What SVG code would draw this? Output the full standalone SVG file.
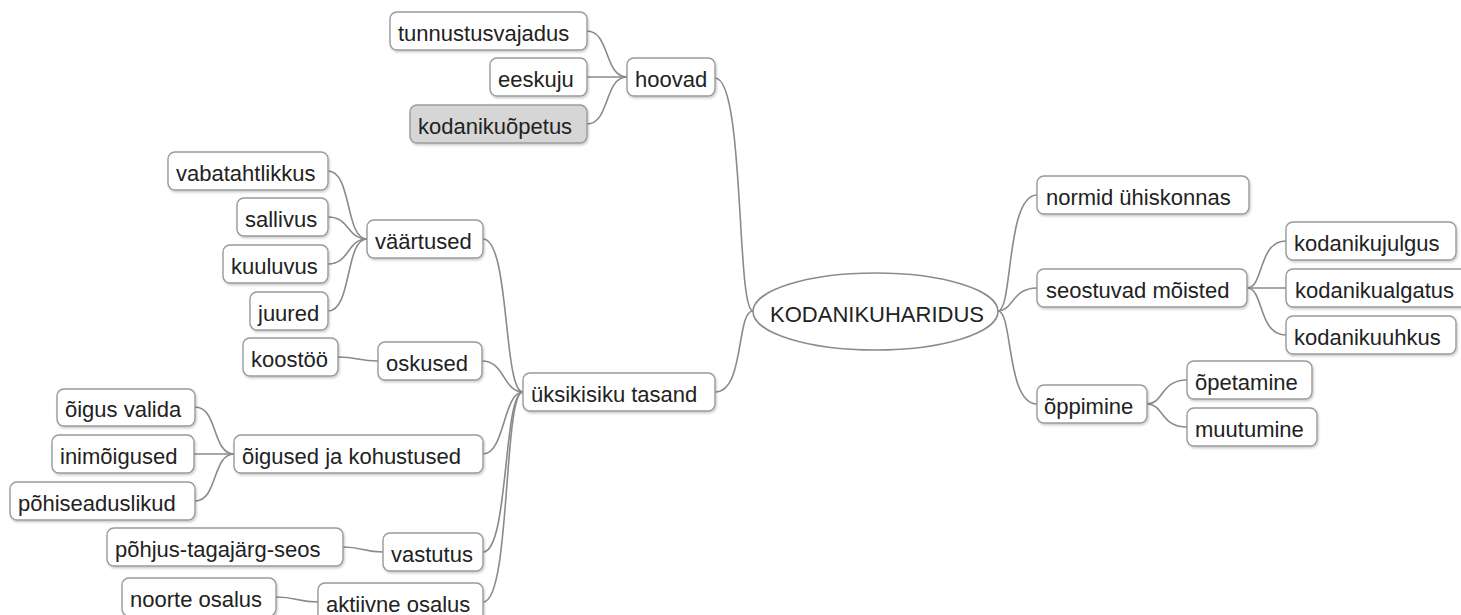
<svg xmlns="http://www.w3.org/2000/svg" width="1461" height="615" viewBox="0 0 1461 615">
<defs>
<filter id="sh" x="-10%" y="-20%" width="120%" height="150%">
<feDropShadow dx="1" dy="1.5" stdDeviation="1" flood-color="#000" flood-opacity="0.22"/>
</filter>
</defs>
<style>
.n rect{fill:#fff;stroke:#9a9a9a;stroke-width:1.4;filter:url(#sh)}
.n.g rect{fill:#d6d6d6}
.n text{font-family:"Liberation Sans",Arial,sans-serif;font-size:22px;fill:#222}
.root ellipse{fill:#fff;stroke:#8c8c8c;stroke-width:1.6}
.root text{font-family:"Liberation Sans",Arial,sans-serif;font-size:22px;fill:#222;text-anchor:middle}
#connectors path{fill:none;stroke:#8a8a8a;stroke-width:1.6}
</style>
<rect width="1461" height="615" fill="#fff"/>
<g id="connectors">
<path d="M753,311 C736,311 745,78 715,78"/>
<path d="M753,311 C736,311 745,392 715,392"/>
<path d="M998,311 C1013,311 1006,195 1037,195"/>
<path d="M998,311 C1013,311 1012,288 1037,288"/>
<path d="M998,311 C1013,311 1006,404 1037,404"/>
<path d="M1247,288 C1264,288 1258,241 1286,241"/>
<path d="M1247,288 L1286,288"/>
<path d="M1247,288 C1264,288 1258,335 1286,335"/>
<path d="M1147,404 C1164,404 1160,380 1187,380"/>
<path d="M1147,404 C1164,404 1160,427 1187,427"/>
<path d="M587,31 C610,31 604,77 627,77"/>
<path d="M587,77 L627,77"/>
<path d="M587,124 C610,124 604,77 627,77"/>
<path d="M483,239 C510,239 503,392 523,392"/>
<path d="M482,361 C505,361 503,392 523,392"/>
<path d="M483,454 C505,454 503,392 523,392"/>
<path d="M483,552 C509,552 503,392 523,392"/>
<path d="M483,602 C511,602 503,392 523,392"/>
<path d="M328,171 C352,171 345,239 367,239"/>
<path d="M328,217 C350,217 347,239 367,239"/>
<path d="M328,264 C350,264 347,239 367,239"/>
<path d="M328,311 C352,311 345,239 367,239"/>
<path d="M338,357 C358,357 358,361 378,361"/>
<path d="M195,407 C218,407 212,454 234,454"/>
<path d="M194,454 L234,454"/>
<path d="M195,501 C218,501 212,454 234,454"/>
<path d="M343,547 C363,547 363,552 383,552"/>
<path d="M276,597 C297,597 297,602 318,602"/>
</g>
<g id="root" class="root"><ellipse cx="875.5" cy="311.5" rx="122.5" ry="38.5"/><text x="877" y="322">KODANIKUHARIDUS</text></g>
<g id="hoovad" class="n"><rect x="627" y="58" width="88" height="38" rx="7"/><text x="635" y="87">hoovad</text></g>
<g id="tunnustusvajadus" class="n"><rect x="390" y="12" width="197" height="38" rx="7"/><text x="398" y="41">tunnustusvajadus</text></g>
<g id="eeskuju" class="n"><rect x="490" y="58" width="97" height="38" rx="7"/><text x="498" y="87">eeskuju</text></g>
<g id="kodanikuopetus" class="n g"><rect x="410" y="105" width="177" height="38" rx="7"/><text x="418" y="134">kodanikuõpetus</text></g>
<g id="uksikisiku" class="n"><rect x="523" y="373" width="192" height="38" rx="7"/><text x="531" y="402">üksikisiku tasand</text></g>
<g id="vaartused" class="n"><rect x="367" y="220" width="116" height="38" rx="7"/><text x="375" y="249">väärtused</text></g>
<g id="vabatahtlikkus" class="n"><rect x="168" y="152" width="160" height="38" rx="7"/><text x="176" y="181">vabatahtlikkus</text></g>
<g id="sallivus" class="n"><rect x="237" y="198" width="91" height="38" rx="7"/><text x="245" y="227">sallivus</text></g>
<g id="kuuluvus" class="n"><rect x="223" y="245" width="105" height="38" rx="7"/><text x="231" y="274">kuuluvus</text></g>
<g id="juured" class="n"><rect x="250" y="292" width="78" height="38" rx="7"/><text x="258" y="321">juured</text></g>
<g id="oskused" class="n"><rect x="378" y="342" width="104" height="38" rx="7"/><text x="386" y="371">oskused</text></g>
<g id="koostoo" class="n"><rect x="243" y="338" width="95" height="38" rx="7"/><text x="251" y="367">koostöö</text></g>
<g id="oigused" class="n"><rect x="234" y="435" width="249" height="38" rx="7"/><text x="242" y="464">õigused ja kohustused</text></g>
<g id="oigusvalida" class="n"><rect x="57" y="389" width="138" height="37" rx="7"/><text x="65" y="417">õigus valida</text></g>
<g id="inimoigused" class="n"><rect x="52" y="435" width="142" height="38" rx="7"/><text x="60" y="464">inimõigused</text></g>
<g id="pohiseaduslikud" class="n"><rect x="10" y="482" width="185" height="38" rx="7"/><text x="18" y="511">põhiseaduslikud</text></g>
<g id="vastutus" class="n"><rect x="383" y="533" width="100" height="38" rx="7"/><text x="391" y="562">vastutus</text></g>
<g id="pohjus" class="n"><rect x="107" y="528" width="236" height="38" rx="7"/><text x="115" y="557">põhjus-tagajärg-seos</text></g>
<g id="aktiivne" class="n"><rect x="318" y="583" width="165" height="38" rx="7"/><text x="326" y="612">aktiivne osalus</text></g>
<g id="noorte" class="n"><rect x="122" y="578" width="154" height="38" rx="7"/><text x="130" y="607">noorte osalus</text></g>
<g id="normid" class="n"><rect x="1037" y="176" width="212" height="38" rx="7"/><text x="1046" y="205">normid ühiskonnas</text></g>
<g id="seostuvad" class="n"><rect x="1037" y="269" width="210" height="38" rx="7"/><text x="1046" y="298">seostuvad mõisted</text></g>
<g id="kodanikujulgus" class="n"><rect x="1286" y="222" width="170" height="38" rx="7"/><text x="1294" y="251">kodanikujulgus</text></g>
<g id="kodanikualgatus" class="n"><rect x="1286" y="269" width="182" height="38" rx="7"/><text x="1295" y="298">kodanikualgatus</text></g>
<g id="kodanikuuhkus" class="n"><rect x="1286" y="316" width="170" height="38" rx="7"/><text x="1294" y="345">kodanikuuhkus</text></g>
<g id="oppimine" class="n"><rect x="1037" y="385" width="110" height="38" rx="7"/><text x="1044" y="414">õppimine</text></g>
<g id="opetamine" class="n"><rect x="1187" y="361" width="125" height="38" rx="7"/><text x="1195" y="390">õpetamine</text></g>
<g id="muutumine" class="n"><rect x="1187" y="408" width="130" height="38" rx="7"/><text x="1195" y="437">muutumine</text></g>
</svg>
